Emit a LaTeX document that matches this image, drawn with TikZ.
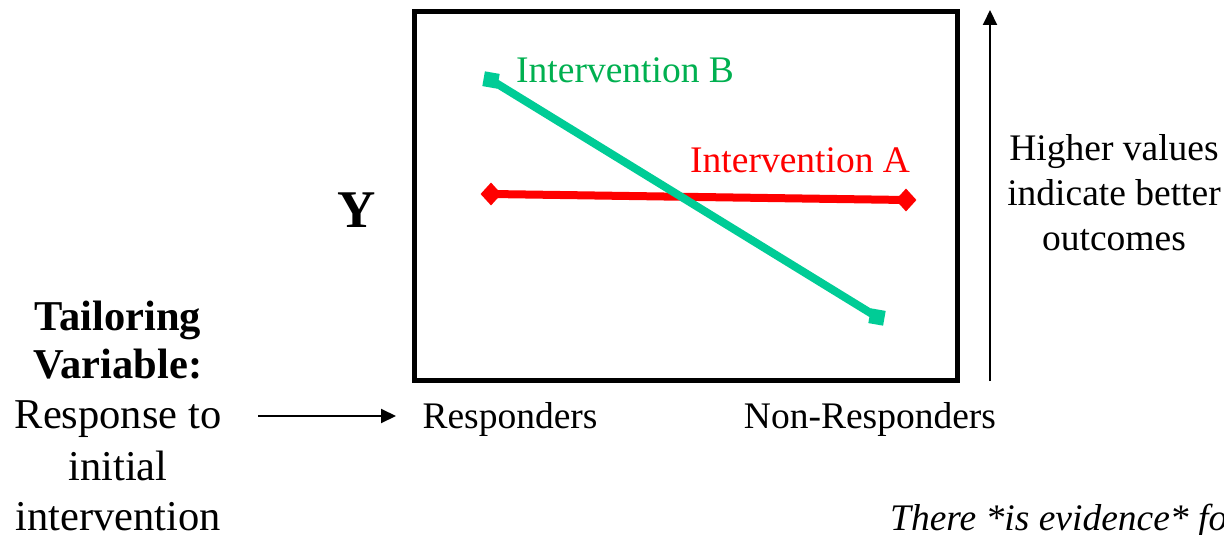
\documentclass[tikz,border=0pt]{standalone}
\usepackage{fontspec}
\setmainfont{Liberation Serif}
\usetikzlibrary{shapes.geometric,arrows.meta}
\definecolor{lineB}{RGB}{0,204,150}
\definecolor{textB}{RGB}{0,176,80}
\definecolor{lineA}{RGB}{255,0,0}
\begin{document}
\begin{tikzpicture}[x=1pt,y=-1pt,
  body/.style={font=\fontsize{37.5}{45}\selectfont, inner sep=0pt, anchor=base},
  side/.style={font=\fontsize{42.5}{51}\selectfont, inner sep=0pt, anchor=base},
  frame/.style={draw=black, line width=5pt, outer sep=0pt},
  trendB/.style={draw=lineB, line width=8pt},
  trendA/.style={draw=lineA, line width=8pt},
  sqmark/.style={rectangle, fill=lineB, minimum size=15pt, inner sep=0pt, rotate=-10},
  dmmark/.style={diamond, fill=lineA, minimum width=21pt, minimum height=23pt, inner sep=0pt},
  pointer/.style={draw=black, line width=2pt, -{Triangle[length=15pt,width=14pt]}}
]
\clip (0,0) rectangle (1224,535);
\fill[white] (0,0) rectangle (1224,535);

% plot frame
\node[frame, rectangle, minimum width=543pt, minimum height=368pt, inner sep=0pt] (plot) at (685.5,196) {};

% line end points
\coordinate (b1) at (491,80);
\coordinate (b2) at (877,317);
\coordinate (a1) at (491,194);
\coordinate (a2) at (906,200);

\draw[trendA] (a1) -- (a2);
\draw[trendB] (b1) -- (b2);

\node[sqmark] (mb1) at (b1) {};
\node[sqmark] (mb2) at (b2) {};
\node[dmmark] (ma1) at (a1) {};
\node[dmmark] (ma2) at (a2) {};

% series labels
\node[body, anchor=base west, text=textB] (labB) at (516,82) {Intervention B};
\node[body, anchor=base west, text=lineA] (labA) at (690,172) {Intervention A};

% axis label
\node[inner sep=0pt, anchor=base, font=\fontsize{53}{60}\selectfont\bfseries] (ylab) at (357,227) {Y};

% category labels
\node[body] (resp) at (510,428) {Responders};
\node[body] (nonresp) at (870,428) {Non-Responders};

% direction arrow and note
\coordinate (up0) at (990,381);
\coordinate (up1) at (990,10);
\draw[pointer] (up0) -- (up1);
\node[body] (h1) at (1114,160) {Higher values};
\node[body] (h2) at (1114,205) {indicate better};
\node[body] (h3) at (1114,250) {outcomes};

% tailoring variable
\node[side, font=\fontsize{42.5}{51}\selectfont\bfseries] (t1) at (118,330) {Tailoring};
\node[side, font=\fontsize{42.5}{51}\selectfont\bfseries] (t2) at (118,378) {Variable:};
\node[side] (t3) at (118,428) {Response to};
\node[side] (t4) at (118,480) {initial};
\node[side] (t5) at (118,530) {intervention};

\coordinate (h0) at (258,416);
\coordinate (hx) at (396,416);
\draw[pointer] (h0) -- (hx);

% footnote running off the page
\node[body, anchor=base west, font=\fontsize{37.5}{45}\selectfont\itshape] (foot) at (890,530) {There *is evidence* for};
\end{tikzpicture}
\end{document}
